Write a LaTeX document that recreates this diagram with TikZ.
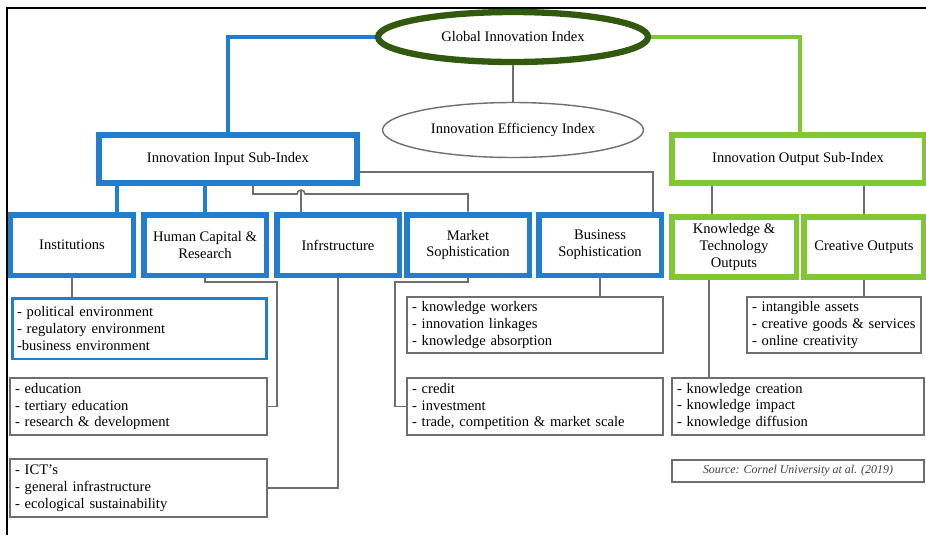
\documentclass[tikz,border=0pt]{standalone}
\usepackage{fontspec}
\setmainfont{Liberation Serif}
\usetikzlibrary{shapes.geometric}
\definecolor{giiblue}{RGB}{35,125,205}
\definecolor{giigreen}{RGB}{128,200,50}
\definecolor{giidark}{RGB}{50,90,15}
\definecolor{wire}{RGB}{110,110,110}

\begin{document}
\begin{tikzpicture}[x=0.02cm,y=-0.02cm,font=\fontsize{8.3}{9.6}\selectfont]
\tikzset{pipe/.style={draw=wire,line width=0.9pt},
	bluepipe/.style={draw=giiblue,line width=2.3pt},
	greenpipe/.style={draw=giigreen,line width=2.3pt},
	pillar/.style={draw=#1,line width=3.4pt,fill=white,align=center,minimum width=2.46cm,minimum height=1.22cm,inner sep=1pt},
	listbox/.style={draw=wire,line width=0.9pt,fill=white,align=left,inner xsep=0.1cm,inner ysep=1pt,text width=#1}}
\useasboundingbox (0,0) rectangle (926,535);
\draw[line width=1.2pt] (7,535) -- (7,8) -- (926,8);

% indices
\node[ellipse,draw=giidark,line width=3.6pt,fill=white,minimum width=5.4cm,minimum height=1cm] (gii) at (513,37) {Global Innovation Index};
\node[ellipse,draw=wire,line width=0.8pt,minimum width=5.22cm,minimum height=1.1cm] (eii) at (513,130) {Innovation Efficiency Index};
\node[pillar=giiblue,minimum width=5.16cm,minimum height=0.96cm] (input) at (228,159) {Innovation Input Sub-Index};
\node[pillar=giigreen,minimum width=5.06cm,minimum height=0.96cm] (output) at (798,159) {Innovation Output Sub-Index};

% pillars
\foreach \n/\x/\t in {inst/72/Institutions,hum/205/{Human Capital \&\\Research},infra/338/Infrstructure,mkt/468/{Market\\Sophistication},biz/600/{Business\\Sophistication}}{%
	\node[pillar=giiblue] (\n) at (\x,245) {\t};
}%
\node[pillar=giigreen,minimum width=2.5cm,minimum height=1.2cm] (kt) at (734,247) {Knowledge \&\\Technology\\Outputs};
\node[pillar=giigreen,minimum width=2.4cm,minimum height=1.2cm] (cre) at (864,247) {Creative Outputs};

% sub-pillars
\node[listbox=4.9cm,draw=giiblue,line width=1.7pt,minimum height=1.22cm] (polbox) at (139.5,328.5) {- political environment\\- regulatory environment\\-business environment};
\node[listbox=4.94cm,minimum height=1.14cm] (edubox) at (138.5,406.5) {- education\\- tertiary education\\- research \& development};
\node[listbox=4.94cm,minimum height=1.16cm] (ictbox) at (138.5,488) {- ICT’s\\- general infrastructure\\- ecological sustainability};
\node[listbox=4.92cm,minimum height=1.12cm] (bizbox) at (535,325) {- knowledge workers\\- innovation linkages\\- knowledge absorption};
\node[listbox=4.92cm,minimum height=1.14cm] (mktbox) at (535,406.5) {- credit\\- investment\\- trade, competition \& market scale};
\node[listbox=3.28cm,minimum height=1.12cm] (creabox) at (834,325) {- intangible assets\\- creative goods \& services\\- online creativity};
\node[listbox=4.84cm,minimum height=1.14cm] (kntbox) at (798,406.5) {- knowledge creation\\- knowledge impact\\- knowledge diffusion};
\node[draw=wire,line width=0.9pt,minimum width=5.04cm,minimum height=0.44cm,inner sep=1pt,font=\fontsize{6.8}{8}\selectfont\itshape,text=black!75] (src) at (798,471) {Source: Cornel University at al. (2019)};

% links
\draw[bluepipe] (gii.west) -| (input.north);
\draw[greenpipe] (gii.east) -| (output.north -| 800,0);
\draw[pipe] (gii.south) -- (eii.north);
\draw[bluepipe] (input.south -| 117,0) -- (inst.north -| 117,0);
\draw[bluepipe] (input.south -| hum.north) -- (hum.north);
\draw[pipe] (input.south east |- 0,172) -| (biz.north -| 653,0);
\draw[pipe] (input.south -| 253,0) |- (297,194) arc[start angle=180,end angle=0,radius=0.08cm] -- (468,194) -- (mkt.north);
\draw[pipe] (infra.north -| 301,0) -- (301,190);
\draw[pipe] (output.south -| 712,0) -- (kt.north -| 712,0);
\draw[pipe] (output.south -| cre.north) -- (cre.north);
\draw[pipe] (inst.south) -- (inst.south |- polbox.north);
\draw[pipe] (hum.south) |- (277,282) |- (edubox.east);
\draw[pipe] (infra.south) |- (ictbox.east);
\draw[pipe] (mkt.south) |- (395,282) |- (mktbox.west);
\draw[pipe] (biz.south) -- (biz.south |- bizbox.north);
\draw[pipe] (kt.south -| 709,0) -- (kntbox.north -| 709,0);
\draw[pipe] (cre.south) -- (cre.south |- creabox.north);
\end{tikzpicture}
\end{document}
